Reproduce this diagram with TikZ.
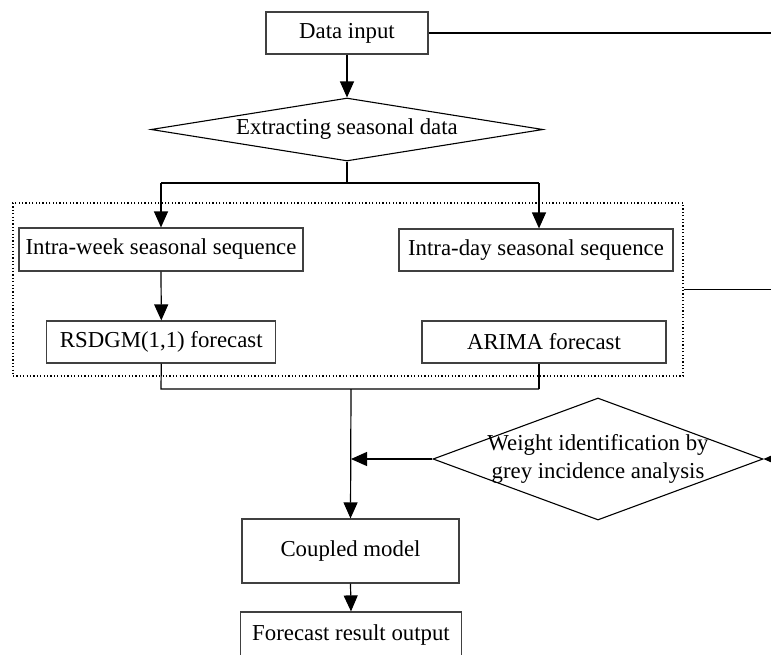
\documentclass[tikz,border=0pt]{standalone}
\usepackage{fontspec}
\setmainfont{Liberation Serif}
\usetikzlibrary{arrows.meta,shapes.geometric}
\begin{document}
\begin{tikzpicture}[x=0.5pt,y=-0.5pt,
  font=\fontsize{11.4}{14}\selectfont,
  box/.style={draw=black!75,line width=0.6pt,rectangle,inner sep=0pt,align=center},
  dia/.style={draw=black,line width=0.55pt,diamond,inner sep=0pt},
  ln/.style={draw=black,line width=0.6pt},
  arr/.style={ln,-{Triangle[length=8pt,width=7pt]}},
  grpbox/.style={draw=black,line width=0.6pt,dash pattern=on 0.6pt off 1.1pt,rectangle,inner sep=0pt}]
\useasboundingbox (0,0) rectangle (771,654);
\clip (0,0) rectangle (771,654);
% nodes
\node[box,minimum width=81pt,minimum height=21pt] (din) at (347,33) {Data input};
\node[dia,minimum width=196pt,minimum height=31.5pt,label={center:Extracting seasonal data}] (ext) at (347,129.5) {};
\node[grpbox,minimum width=335pt,minimum height=86.5pt] (grp) at (348,289.5) {};
\node[box,minimum width=142pt,minimum height=21.5pt] (week) at (161,249.5) {Intra-week seasonal sequence};
\node[box,minimum width=137pt,minimum height=21pt] (day) at (536,250) {Intra-day seasonal sequence};
\node[box,minimum width=114.5pt,minimum height=21pt] (rs) at (161.3,342) {RSDGM(1,1) forecast};
\node[box,minimum width=122pt,minimum height=21pt] (ar) at (544,342) {ARIMA forecast};
\node[dia,minimum width=165pt,minimum height=61pt,label={[align=center]center:Weight identification by\\grey incidence analysis}] (wd) at (598,459) {};
\node[box,minimum width=108.5pt,minimum height=32pt] (cm) at (350.5,551) {Coupled model};
\node[box,minimum width=110.5pt,minimum height=23pt] (fo) at (351,635) {Forecast result output};
% coordinates
\coordinate (eTop) at (771,33);
\coordinate (eMid) at (771,289.5);
\coordinate (eW) at (771,459);
\coordinate (jTop) at (347,183);
\coordinate (jL) at (161,183);
\coordinate (jR) at (539,183);
\coordinate (mL) at (161,389);
\coordinate (mR) at (539,389);
\coordinate (mC) at (351,389);
\coordinate (wIn) at (351,459);
% connectors
\draw[ln] (din.east) -- (eTop);
\draw[arr] (din.south) -- (ext.north);
\draw[ln] (ext.south) -- (jTop);
\draw[ln] (jL) -- (jR);
\draw[arr] (jL) -- (week.north);
\draw[arr] (jR) -- (jR |- day.north);
\draw[arr] (week.south) -- (rs.north);
\draw[ln] (grp.east) -- (eMid);
\draw[ln] (rs.south) -- (mL) -- (mR);
\draw[ln] (mR |- ar.south) -- (mR);
\draw[arr] (mC) -- (cm.north);
\draw[arr] (wd.west) -- (wIn);
\draw[arr] (eW) -- (wd.east);
\draw[arr] (cm.south) -- (fo.north);
\end{tikzpicture}
\end{document}
